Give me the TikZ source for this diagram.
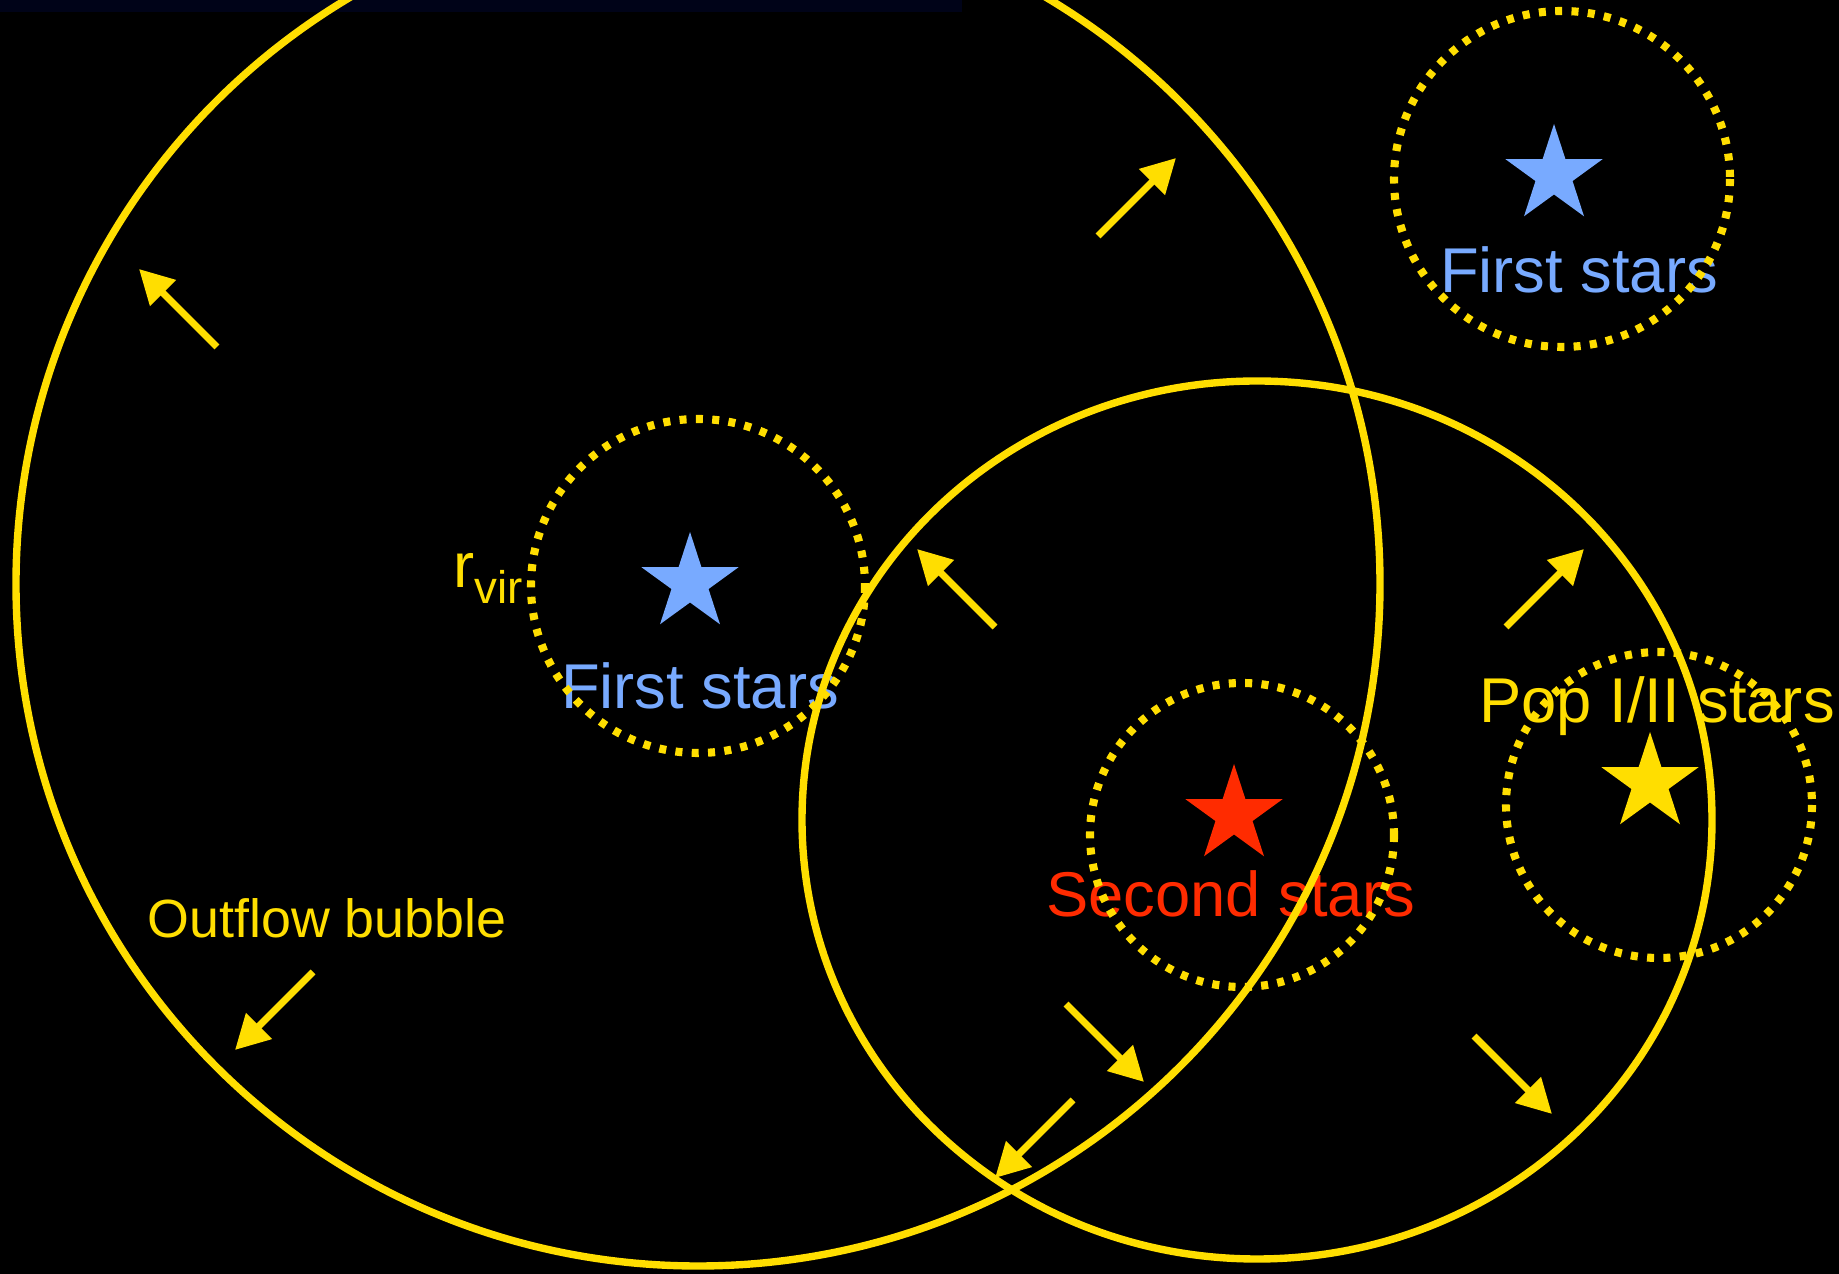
\documentclass[tikz,border=0pt]{standalone}
\usepackage{fontspec}
\setsansfont{Liberation Sans}
\usetikzlibrary{arrows.meta, shapes.geometric}
\definecolor{bubble}{HTML}{FFDE00}
\definecolor{popthree}{HTML}{78AAFF}
\definecolor{second}{HTML}{FF2B00}
\definecolor{strip}{HTML}{000318}

\begin{document}
\begin{tikzpicture}[x=0.01cm, y=-0.01cm, font=\sffamily, >={Triangle[length=3.4mm, width=3.5mm]},
    shell/.style={draw=bubble, line width=2.1pt},
    halo/.style={draw=bubble, line width=2.3pt, dash pattern=on 2pt off 2.65pt},
    starmark/.style={star, star points=5, star point ratio=2.618, minimum size=1.02cm, inner sep=0pt, draw=none},
    tag/.style={font=\sffamily\fontsize{18}{21}\selectfont, anchor=base, inner sep=0pt},
    flow/.style={->, bubble, line width=2pt}]

  \fill[black] (0,0) rectangle (1839,1274);
  \fill[strip] (0,0) rectangle (962,12);
  \useasboundingbox (0,0) rectangle (1839,1274);

  \node[starmark, fill=popthree] (s1) at (690,583) {};
  \node[starmark, fill=popthree] (s2) at (1554,175) {};
  \node[starmark, fill=second] (s3) at (1234,815) {};
  \node[starmark, fill=bubble] (s4) at (1650,783) {};

  \node[tag, text=popthree] (l1) at (700,709) {First stars};
  \node[tag, text=popthree] (l2) at (1579,293) {First stars};
  \node[tag, text=second] (l3) at (1231,917) {Second stars};
  \node[tag, text=bubble] (l4) at (1657,723) {Pop I/II stars};
  \node[tag, text=bubble, font=\sffamily\fontsize{15.3}{18}\selectfont] (out) at (327,938) {Outflow bubble};
  \node[tag, text=bubble, anchor=base west] (rvir) at (453,588) {r\raisebox{-0.45ex}{\fontsize{13}{15}\selectfont vir}};

  \draw[shell] (698,584) circle (682);
  \draw[shell] (1257,820) ellipse (455 and 439);
  \draw[halo] (698,586) circle (167);
  \draw[halo] (1562,179) circle (168);
  \draw[halo] (1242,835) circle (152);
  \draw[halo] (1659,805) circle (153);

  \foreach \x/\y/\dx/\dy in {217/347/-1/-1, 1098/236/1/-1, 995/627/-1/-1, 1506/627/1/-1,
                             313/972/-1/1, 1066/1004/1/1, 1073/1100/-1/1, 1474/1036/1/1}
    \draw[flow] (\x,\y) -- ++(78*\dx,78*\dy);
\end{tikzpicture}
\end{document}
